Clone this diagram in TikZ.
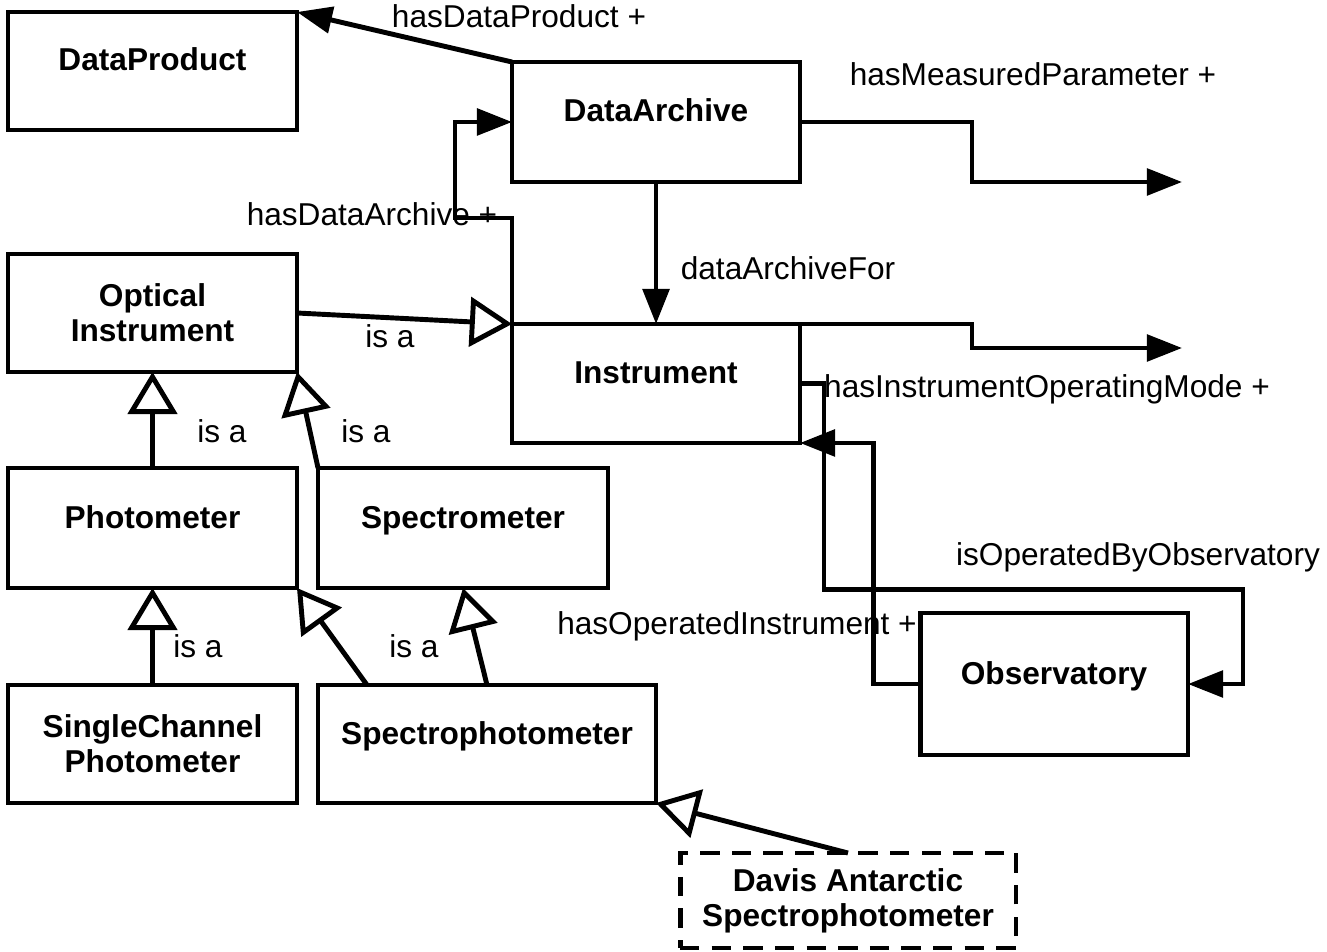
\documentclass[tikz,border=0pt]{standalone}
\usepackage{fontspec}
\setmainfont{Liberation Sans}
\usetikzlibrary{arrows.meta, positioning}

\begin{document}
\begin{tikzpicture}[x=0.02cm, y=-0.02cm,
  box/.style={draw, line width=2.8pt, inner sep=0pt, outer sep=0pt, align=center,
    font=\bfseries\fontsize{18}{20}\selectfont},
  onel/.style={text height=13pt, text depth=13pt},
  lbl/.style={font=\fontsize{18}{20}\selectfont, inner sep=0pt, text height=13pt, text depth=4pt},
  link/.style={line width=2.8pt},
  has/.style={link, -{Triangle[length=20pt, width=15pt]}},
  isa/.style={link, -{Triangle[open, length=24pt, width=28pt]}}]
\useasboundingbox (0,0) rectangle (1327,952);

% classes
\node[box, onel, minimum width=5.78cm, minimum height=2.36cm] (dp) at (152.5,71) {DataProduct};
\node[box, onel, minimum width=5.76cm, minimum height=2.40cm] (da) at (656,122) {DataArchive};
\node[box, minimum width=5.78cm, minimum height=2.36cm] (oi) at (152.5,313) {Optical\\Instrument};
\node[box, onel, minimum width=5.76cm, minimum height=2.38cm] (ins) at (656,383.5) {Instrument};
\node[box, onel, minimum width=5.78cm, minimum height=2.40cm] (ph) at (152.5,528) {Photometer};
\node[box, onel, minimum width=5.80cm, minimum height=2.40cm] (sm) at (463,528) {Spectrometer};
\node[box, minimum width=5.78cm, minimum height=2.36cm] (sc) at (152.5,744) {SingleChannel\\Photometer};
\node[box, onel, minimum width=6.76cm, minimum height=2.36cm] (sp) at (487,744) {Spectrophotometer};
\node[box, onel, minimum width=5.36cm, minimum height=2.84cm] (obs) at (1054,684) {Observatory};
\node[box, dash pattern=on 11pt off 7pt, minimum width=6.72cm, minimum height=1.90cm] (dv) at (848,900.5) {Davis Antarctic\\Spectrophotometer};

% free ends
\coordinate (mp) at (1182,182);
\coordinate (om) at (1182,348);

% properties
\draw[has] (da.north west) -- (dp.north east);
\draw[has] (ins.north west) -- ++(0,-106) -- ++(-57,0) |- (da.west);
\draw[has] (da.south) -- (ins.north);
\draw[has] (da.east) -- ++(172,0) |- (mp);
\draw[has] (ins.north east) -- ++(172,0) |- (om);
\draw[has] (ins.east) -- ++(24,0) -- ++(0,206) -| ([xshift=1.1cm]obs.east) -- (obs.east);
\draw[has] (obs.west) -- ++(-47,0) |- (ins.south east);

% subclasses
\draw[isa] (oi.east) -- (ins.north west);
\draw[isa] (ph.north) -- (oi.south);
\draw[isa] (sm.north west) -- (oi.south east);
\draw[isa] (sc.north) -- (ph.south);
\draw[isa] ([xshift=0.98cm]sp.north west) -- (ph.south east);
\draw[isa] (sp.north) -- (sm.south);
\draw[isa] (dv.north) -- (sp.south east);

% labels
\node[lbl] (l-dp) at (519,20) {hasDataProduct +};
\node[lbl] (l-mp) at (1033,78) {hasMeasuredParameter +};
\node[lbl] (l-da) at (372,218) {hasDataArchive +};
\node[lbl] (l-daf) at (788,272) {dataArchiveFor};
\node[lbl] (l-isa1) at (390,340) {is a};
\node[lbl] (l-om) at (1047,390) {hasInstrumentOperatingMode +};
\node[lbl] (l-isa2) at (222,435) {is a};
\node[lbl] (l-isa3) at (366,435) {is a};
\node[lbl] (l-obs) at (1138,558) {isOperatedByObservatory};
\node[lbl] (l-oin) at (737,627) {hasOperatedInstrument +};
\node[lbl] (l-isa4) at (198,650) {is a};
\node[lbl] (l-isa5) at (414,650) {is a};
\end{tikzpicture}
\end{document}
